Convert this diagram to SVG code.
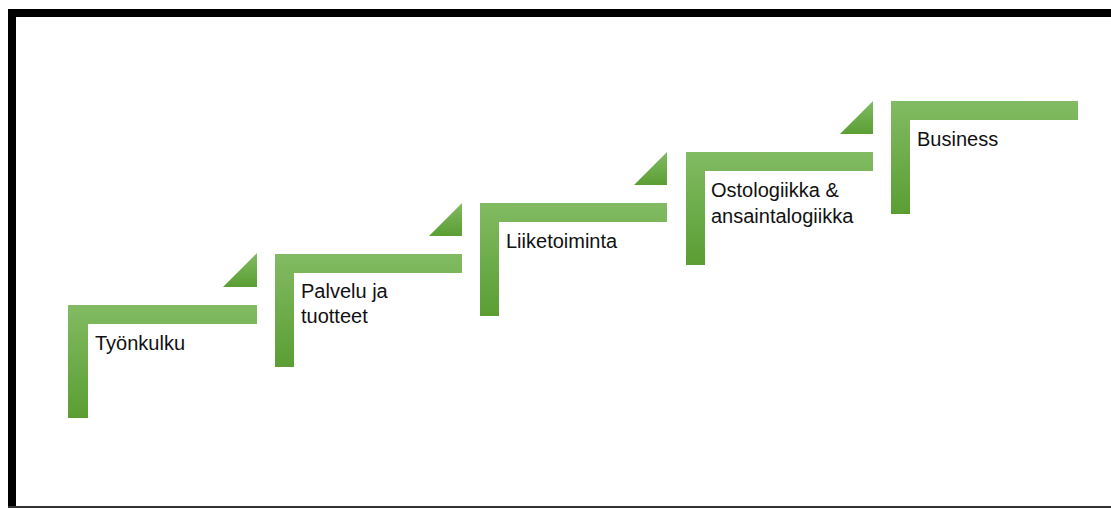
<svg xmlns="http://www.w3.org/2000/svg" width="1111" height="508" viewBox="0 0 1111 508">
<style>
.lbl{font-family:"Liberation Sans",Arial,sans-serif;font-size:20px;fill:#111}
.step{fill:url(#g)}
.tri{fill:url(#g)}
</style>
<defs>
<linearGradient id="g" x1="0" y1="0" x2="0" y2="1">
<stop offset="0" stop-color="#82bb63"/>
<stop offset="1" stop-color="#5a9e33"/>
</linearGradient>
</defs>
<rect width="1111" height="508" fill="#fff"/>
<g id="frame">
<rect x="8" y="9" width="1103" height="8" fill="#000"/>
<rect x="8" y="9" width="8" height="499" fill="#000"/>
<rect x="8" y="506" width="1103" height="2" fill="#333"/>
</g>
<g id="step1">
<path class="step" d="M68,305 H257 V324 H88 V418 H68 Z"/>
<text class="lbl" x="95" y="350">Työnkulku</text>
</g>
<g id="step2">
<path class="step" d="M275,254 H462 V273 H294 V367 H275 Z"/>
<text class="lbl" x="301" y="298">Palvelu ja</text>
<text class="lbl" x="301" y="323">tuotteet</text>
</g>
<g id="step3">
<path class="step" d="M480,203 H667 V222 H499 V316 H480 Z"/>
<text class="lbl" x="506" y="248">Liiketoiminta</text>
</g>
<g id="step4">
<path class="step" d="M686,152 H873 V171 H705 V265 H686 Z"/>
<text class="lbl" x="711" y="197">Ostologiikka &amp;</text>
<text class="lbl" x="711" y="223">ansaintalogiikka</text>
</g>
<g id="step5">
<path class="step" d="M891,101 H1078 V120 H910 V214 H891 Z"/>
<text class="lbl" x="917" y="146">Business</text>
</g>
<g id="connectors">
<path class="tri" d="M223,287 H257 V253 Z"/>
<path class="tri" d="M429,236 H462 V203 Z"/>
<path class="tri" d="M634,185 H667 V152 Z"/>
<path class="tri" d="M840,134 H873 V101 Z"/>
</g>
</svg>
